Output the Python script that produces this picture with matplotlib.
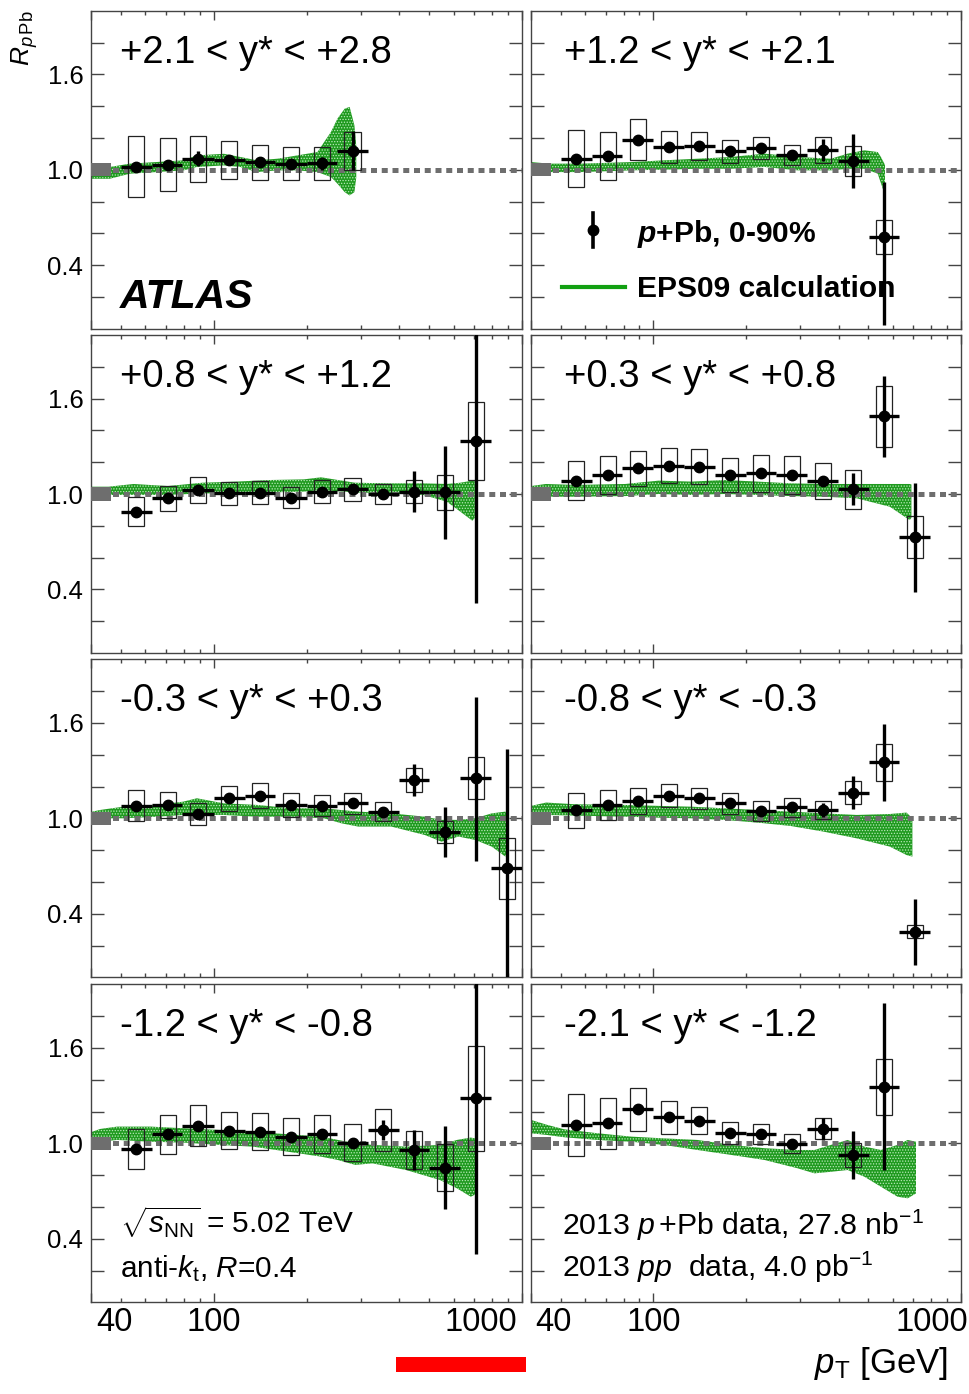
import numpy as np
import matplotlib
matplotlib.use('Agg')
import matplotlib.pyplot as plt
import matplotlib.transforms as mtransforms
from matplotlib.patches import Rectangle
from matplotlib.ticker import FixedLocator, FixedFormatter, NullFormatter

plt.rcParams['font.family'] = ['Liberation Sans', 'DejaVu Sans']
plt.rcParams['mathtext.fontset'] = 'custom'
plt.rcParams['mathtext.rm'] = 'Liberation Sans'
plt.rcParams['mathtext.it'] = 'Liberation Sans:italic'
plt.rcParams['mathtext.bf'] = 'Liberation Sans:bold'
plt.rcParams['mathtext.bfit'] = 'Liberation Sans:bold:italic'
plt.rcParams['hatch.linewidth'] = 0.6

# jet pT bins [GeV]
pt = [56, 71, 89, 112, 141, 178, 224, 282, 355, 447, 562, 708, 891]
pt_lo = [50, 63, 79, 100, 126, 158, 200, 251, 316, 398, 501, 631, 794]
pt_hi = [63, 79, 100, 126, 158, 200, 251, 316, 398, 501, 631, 794, 1000]

labels = ['+2.1 < y* < +2.8', '+1.2 < y* < +2.1',
          '+0.8 < y* < +1.2', '+0.3 < y* < +0.8',
          '-0.3 < y* < +0.3', '-0.8 < y* < -0.3',
          '-1.2 < y* < -0.8', '-2.1 < y* < -1.2']

# R_pPb per rapidity bin: value, stat up, stat down, systematic
r1 = [1.020, 1.032, 1.070, 1.059, 1.046, 1.038, 1.040, 1.116]
st1_up = [0.01, 0.01, 0.047, 0.015, 0.01, 0.01, 0.04, 0.13]
st1_dn = [0.01, 0.01, 0.047, 0.015, 0.01, 0.01, 0.04, 0.12]
sy1 = [0.189, 0.168, 0.145, 0.119, 0.111, 0.103, 0.103, 0.119]

r2 = [1.069, 1.086, 1.189, 1.143, 1.149, 1.115, 1.136, 1.090, 1.126, 1.055, 0.576]
st2_up = [0.01, 0.01, 0.01, 0.01, 0.01, 0.01, 0.01, 0.01, 0.07, 0.17, 0.346]
st2_dn = [0.01, 0.01, 0.01, 0.01, 0.01, 0.01, 0.01, 0.01, 0.07, 0.17, 0.55]
sy2 = [0.180, 0.150, 0.130, 0.103, 0.086, 0.074, 0.070, 0.063, 0.082, 0.095, 0.107]

r3 = [0.889, 0.973, 1.025, 1.004, 1.008, 0.977, 1.015, 1.029, 1.000, 1.015, 1.010, 1.334]
st3_up = [0.01, 0.01, 0.01, 0.01, 0.01, 0.01, 0.01, 0.01, 0.03, 0.13, 0.29, 0.75]
st3_dn = [0.01, 0.01, 0.01, 0.01, 0.01, 0.01, 0.01, 0.01, 0.03, 0.13, 0.29, 1.02]
sy3 = [0.090, 0.080, 0.080, 0.074, 0.072, 0.066, 0.072, 0.070, 0.065, 0.074, 0.110, 0.245]

r4 = [1.084, 1.120, 1.162, 1.179, 1.172, 1.120, 1.130, 1.120, 1.082, 1.029, 1.488, 0.731]
st4_up = [0.01, 0.01, 0.01, 0.01, 0.01, 0.01, 0.01, 0.01, 0.025, 0.10, 0.255, 0.34]
st4_dn = [0.01, 0.01, 0.01, 0.01, 0.01, 0.01, 0.01, 0.01, 0.025, 0.10, 0.255, 0.347]
sy4 = [0.123, 0.118, 0.110, 0.110, 0.108, 0.108, 0.116, 0.118, 0.115, 0.124, 0.193, 0.132]

r5 = [1.080, 1.084, 1.027, 1.126, 1.141, 1.084, 1.080, 1.094, 1.042, 1.241, 0.916, 1.252, 0.685]
st5_up = [0.01, 0.01, 0.01, 0.01, 0.01, 0.01, 0.01, 0.01, 0.03, 0.10, 0.157, 0.51, 0.75]
st5_dn = [0.01, 0.01, 0.01, 0.01, 0.01, 0.01, 0.01, 0.01, 0.03, 0.10, 0.157, 0.52, 0.70]
sy5 = [0.095, 0.081, 0.070, 0.078, 0.078, 0.074, 0.066, 0.066, 0.060, 0.077, 0.069, 0.132, 0.192]

r6 = [1.052, 1.084, 1.109, 1.143, 1.126, 1.094, 1.046, 1.069, 1.052, 1.162, 1.353, 0.286]
st6_up = [0.01, 0.01, 0.01, 0.01, 0.01, 0.01, 0.01, 0.01, 0.045, 0.103, 0.242, 0.207]
st6_dn = [0.01, 0.01, 0.01, 0.01, 0.01, 0.01, 0.01, 0.01, 0.045, 0.103, 0.242, 0.207]
sy6 = [0.110, 0.095, 0.084, 0.072, 0.067, 0.068, 0.060, 0.061, 0.056, 0.070, 0.117, 0.040]

r7 = [0.964, 1.057, 1.111, 1.080, 1.073, 1.042, 1.057, 1.004, 1.084, 0.958, 0.847, 1.283]
st7_up = [0.01, 0.01, 0.01, 0.01, 0.01, 0.01, 0.01, 0.01, 0.063, 0.126, 0.259, 0.75]
st7_dn = [0.01, 0.01, 0.01, 0.01, 0.01, 0.01, 0.01, 0.01, 0.063, 0.126, 0.259, 0.982]
sy7 = [0.124, 0.122, 0.127, 0.117, 0.116, 0.116, 0.119, 0.116, 0.130, 0.118, 0.150, 0.330]

r8 = [1.115, 1.126, 1.214, 1.164, 1.143, 1.063, 1.059, 0.996, 1.090, 0.927, 1.357]
st8_up = [0.01, 0.01, 0.01, 0.01, 0.01, 0.01, 0.01, 0.01, 0.068, 0.153, 0.527]
st8_dn = [0.01, 0.01, 0.01, 0.01, 0.01, 0.01, 0.01, 0.01, 0.068, 0.153, 0.527]
sy8 = [0.197, 0.160, 0.135, 0.104, 0.083, 0.069, 0.063, 0.060, 0.066, 0.078, 0.176]

# EPS09 calculation band (pT, lower, upper)
b1_pt = [40, 46, 53.5, 65, 80, 88, 108, 122, 138, 161, 187, 217, 240, 252, 266, 276, 286, 290]
b1_lo = [0.943, 0.943, 0.975, 0.985, 0.996, 1.017, 1.027, 1.017, 0.985, 0.996, 0.996, 0.985, 0.954, 0.912, 0.859, 0.838, 0.859, 0.95]
b1_hi = [1.038, 1.017, 1.038, 1.048, 1.059, 1.09, 1.10, 1.08, 1.059, 1.069, 1.09, 1.111, 1.237, 1.321, 1.384, 1.395, 1.279, 1.15]

b2_pt = [40, 46, 58, 85, 108, 139, 179, 230, 294, 378, 428, 485, 536, 549, 566]
b2_lo = [0.985, 0.985, 0.985, 0.996, 1.0, 1.006, 1.006, 1.017, 0.996, 0.996, 1.006, 1.006, 0.975, 0.916, 0.84]
b2_hi = [1.048, 1.038, 1.038, 1.048, 1.059, 1.069, 1.080, 1.101, 1.080, 1.069, 1.101, 1.122, 1.111, 1.080, 1.03]

b3_pt = [40, 45.6, 55, 71, 92, 118, 152, 196, 223, 287, 371, 478, 570, 631, 690, 703]
b3_lo = [0.994, 0.994, 0.994, 0.994, 1.004, 1.004, 1.01, 1.015, 1.025, 1.01, 1.004, 0.994, 0.952, 0.889, 0.832, 0.85]
b3_hi = [1.046, 1.046, 1.063, 1.05, 1.071, 1.078, 1.088, 1.092, 1.105, 1.071, 1.067, 1.067, 1.063, 1.071, 1.084, 1.08]

b4_pt = [40, 44.7, 55.9, 81, 104, 133, 170, 218, 279, 358, 458, 587, 681, 690]
b4_lo = [0.983, 0.983, 0.983, 0.987, 1.0, 0.994, 1.0, 0.994, 0.987, 0.983, 0.973, 0.92, 0.836, 0.85]
b4_hi = [1.05, 1.063, 1.057, 1.063, 1.084, 1.078, 1.088, 1.078, 1.067, 1.063, 1.063, 1.063, 1.063, 1.06]

b5_pt = [40, 42.7, 50.9, 65.4, 79.8, 88.2, 107.8, 138.6, 178, 228, 259, 294, 377, 484, 548, 622, 705, 798, 883, 890]
b5_lo = [1.0, 1.0, 1.0, 1.01, 1.021, 1.021, 1.021, 1.01, 1.01, 1.0, 0.969, 0.948, 0.948, 0.895, 0.853, 0.885, 0.864, 0.822, 0.759, 0.78]
b5_hi = [1.04, 1.052, 1.073, 1.084, 1.105, 1.126, 1.094, 1.084, 1.063, 1.063, 1.052, 1.042, 1.031, 1.01, 0.99, 0.99, 1.0, 1.031, 1.042, 1.03]

b6_pt = [40, 44.8, 55.9, 81, 104, 133, 170, 218, 279, 358, 458, 587, 665, 695]
b6_lo = [1.015, 1.021, 1.017, 1.01, 1.004, 1.0, 0.99, 0.973, 0.952, 0.916, 0.874, 0.822, 0.769, 0.759]
b6_hi = [1.078, 1.099, 1.088, 1.084, 1.078, 1.073, 1.063, 1.052, 1.042, 1.031, 1.021, 1.027, 1.036, 1.0]

b7_pt = [40, 42.8, 48.6, 62.6, 80.7, 104, 134, 173, 223, 253, 288, 327, 421, 542, 615, 682, 709]
b7_lo = [1.0, 1.01, 1.021, 1.01, 1.004, 0.99, 0.979, 0.948, 0.916, 0.895, 0.864, 0.874, 0.832, 0.769, 0.717, 0.664, 0.68]
b7_hi = [1.07, 1.09, 1.105, 1.105, 1.094, 1.084, 1.073, 1.057, 1.042, 1.021, 1.0, 0.99, 0.979, 0.99, 1.021, 1.036, 1.03]

b8_pt = [40, 45.3, 51.3, 65.9, 84.6, 108, 139, 179, 230, 294, 334, 378, 428, 485, 549, 622, 671, 714]
b8_lo = [1.063, 1.052, 1.038, 1.021, 1.010, 0.990, 0.958, 0.927, 0.895, 0.843, 0.811, 0.821, 0.832, 0.790, 0.727, 0.664, 0.654, 0.685]
b8_hi = [1.147, 1.115, 1.088, 1.063, 1.042, 1.031, 1.021, 0.990, 0.969, 0.958, 0.958, 0.990, 1.021, 0.979, 0.958, 0.990, 1.021, 1.010]

panels = [
    (r1, st1_up, st1_dn, sy1, b1_pt, b1_lo, b1_hi),
    (r2, st2_up, st2_dn, sy2, b2_pt, b2_lo, b2_hi),
    (r3, st3_up, st3_dn, sy3, b3_pt, b3_lo, b3_hi),
    (r4, st4_up, st4_dn, sy4, b4_pt, b4_lo, b4_hi),
    (r5, st5_up, st5_dn, sy5, b5_pt, b5_lo, b5_hi),
    (r6, st6_up, st6_dn, sy6, b6_pt, b6_lo, b6_hi),
    (r7, st7_up, st7_dn, sy7, b7_pt, b7_lo, b7_hi),
    (r8, st8_up, st8_dn, sy8, b8_pt, b8_lo, b8_hi),
]

W, H = 969, 1394
fig = plt.figure(figsize=(W / 100, H / 100), dpi=100)
fig.patch.set_facecolor('white')

col_x = [91, 531]
col_w = [431, 430]
row_top = [10.7, 335, 659.3, 984.3]
ph = 318

green = '#1f9a1f'
grey = '#6e6e6e'
frame = '#444444'
box_hw = 10 ** 0.026  # half width of systematic boxes (log)

axes = []
for i, (r, su, sd, sy, bpt, blo, bhi) in enumerate(panels):
    row, col = divmod(i, 2)
    ax = fig.add_axes([col_x[col] / W, (H - row_top[row] - ph) / H,
                       col_w[col] / W, ph / H])
    axes.append(ax)
    ax.set_xscale('log')
    ax.set_xlim(40, 1000)
    ax.set_ylim(0, 2.0)

    # EPS09 band
    ax.fill_between(bpt, blo, bhi, facecolor=green, edgecolor='#b8e8b8',
                    hatch='......', linewidth=0, zorder=2)
    # unity line and normalisation box
    ax.axhline(1.0, color=grey, lw=3.6, dashes=(1.2, 0.95),
               dash_capstyle='butt', zorder=3)
    ax.add_patch(Rectangle((40, 0.958), 6.5, 0.084, facecolor=grey,
                           edgecolor='none', zorder=5))

    n = len(r)
    x = np.array(pt[:n], dtype=float)
    for k in range(n):
        ax.add_patch(Rectangle((x[k] / box_hw, r[k] - sy[k]),
                               x[k] * box_hw - x[k] / box_hw, 2 * sy[k],
                               fill=False, edgecolor='#222222', lw=0.9,
                               zorder=4))
    xerr = [x - np.array(pt_lo[:n]), np.array(pt_hi[:n]) - x]
    ax.errorbar(x, r, yerr=[sd, su], xerr=xerr, fmt='o', color='black',
                ms=7.5, elinewidth=2.4, capsize=0, zorder=6)

    ax.text(0.067 if col == 0 else 0.077, 0.836, labels[i],
            transform=ax.transAxes, fontsize=27.5, va='baseline', ha='left',
            zorder=7)

    # ticks
    ax.xaxis.set_major_locator(FixedLocator([40, 100, 1000]))
    ax.xaxis.set_minor_locator(FixedLocator([50, 60, 70, 80, 90, 200, 300,
                                             400, 500, 600, 700, 800, 900]))
    ax.xaxis.set_minor_formatter(NullFormatter())
    ax.yaxis.set_major_locator(FixedLocator([0.2, 0.4, 0.6, 0.8, 1.0, 1.2,
                                             1.4, 1.6, 1.8]))
    if col == 0:
        ax.yaxis.set_major_formatter(FixedFormatter(
            ['', '0.4', '', '', '1.0', '', '', '1.6', '']))
    else:
        ax.yaxis.set_major_formatter(NullFormatter())
    if row == 3:
        ax.xaxis.set_major_formatter(FixedFormatter(['40', '100', '1000']))
    else:
        ax.xaxis.set_major_formatter(NullFormatter())
    ax.tick_params(which='both', direction='in', top=True, right=True,
                   color=frame, width=1.0)
    ax.tick_params(axis='y', length=9.7, labelsize=18.5, pad=5.5)
    ax.tick_params(axis='x', which='major', length=6.5, labelsize=23.5,
                   pad=3.5)
    ax.tick_params(axis='x', which='minor', length=3.2)
    for s in ax.spines.values():
        s.set_color(frame)
        s.set_linewidth(1.0)

    if row == 3:
        tl = ax.get_xticklabels()
        dx_left = 5 if col == 0 else 4
        dx_right = -5 if col == 0 else 7
        tl[0].set_horizontalalignment('left')
        tl[0].set_transform(tl[0].get_transform() + mtransforms.ScaledTranslation(
            dx_left / 100, 0, fig.dpi_scale_trans))
        tl[2].set_horizontalalignment('right')
        tl[2].set_transform(tl[2].get_transform() + mtransforms.ScaledTranslation(
            dx_right / 100, 0, fig.dpi_scale_trans))

# ATLAS label
axes[0].text(0.067, 0.065, 'ATLAS', transform=axes[0].transAxes,
             fontsize=29.5, fontweight='bold', style='italic', va='baseline')

# legend in second panel
ax = axes[1]
ax.plot([0.144, 0.144], [0.256, 0.363], color='black', lw=2.6,
        transform=ax.transAxes, clip_on=False, zorder=7)
ax.plot([0.144], [0.310], 'o', color='black', ms=7.5,
        transform=ax.transAxes, zorder=7)
ax.text(0.2465, 0.2736, r'$\mathbfit{p}$+Pb, 0-90%', transform=ax.transAxes,
        fontsize=21.6, fontweight='bold', va='baseline', zorder=7)
ax.plot([0.072, 0.219], [0.131, 0.131], color='#12a012', lw=3,
        transform=ax.transAxes, zorder=7)
ax.text(0.2465, 0.0997, 'EPS09 calculation', transform=ax.transAxes,
        fontsize=21.6, fontweight='bold', va='baseline', zorder=7)

# info texts
ax = axes[6]
ax.text(0.067, 0.217, r'$\sqrt{s_{\mathrm{NN}}}$ = 5.02 TeV',
        transform=ax.transAxes, fontsize=21.4, va='baseline')
ax.text(0.067, 0.079, r'anti-$k_{\mathrm{t}}$, $R$=0.4',
        transform=ax.transAxes, fontsize=21.4, va='baseline')
ax = axes[7]
ax.text(0.072, 0.211, r'2013 $p\,$+Pb data, 27.8 nb$^{-1}$',
        transform=ax.transAxes, fontsize=21.8, va='baseline')
ax.text(0.072, 0.079, r'2013 $pp$  data, 4.0 pb$^{-1}$',
        transform=ax.transAxes, fontsize=21.8, va='baseline')

# axis titles
fig.text(25 / W, 1 - 10 / H, r'$R_{p\,\mathrm{Pb}}$', rotation=90,
         ha='center', va='top', fontsize=19)
fig.text(948 / W, 21 / H, r'$p_{\mathrm{T}}$ [GeV]', ha='right',
         va='baseline', fontsize=25)

# red marker bar below the bottom-left panel
fig.patches.append(Rectangle((396 / W, (H - 1372) / H), 130 / W, 15 / H,
                             facecolor='#ff0000', edgecolor='none',
                             transform=fig.transFigure, figure=fig))

fig.savefig('out.png', dpi=100)
